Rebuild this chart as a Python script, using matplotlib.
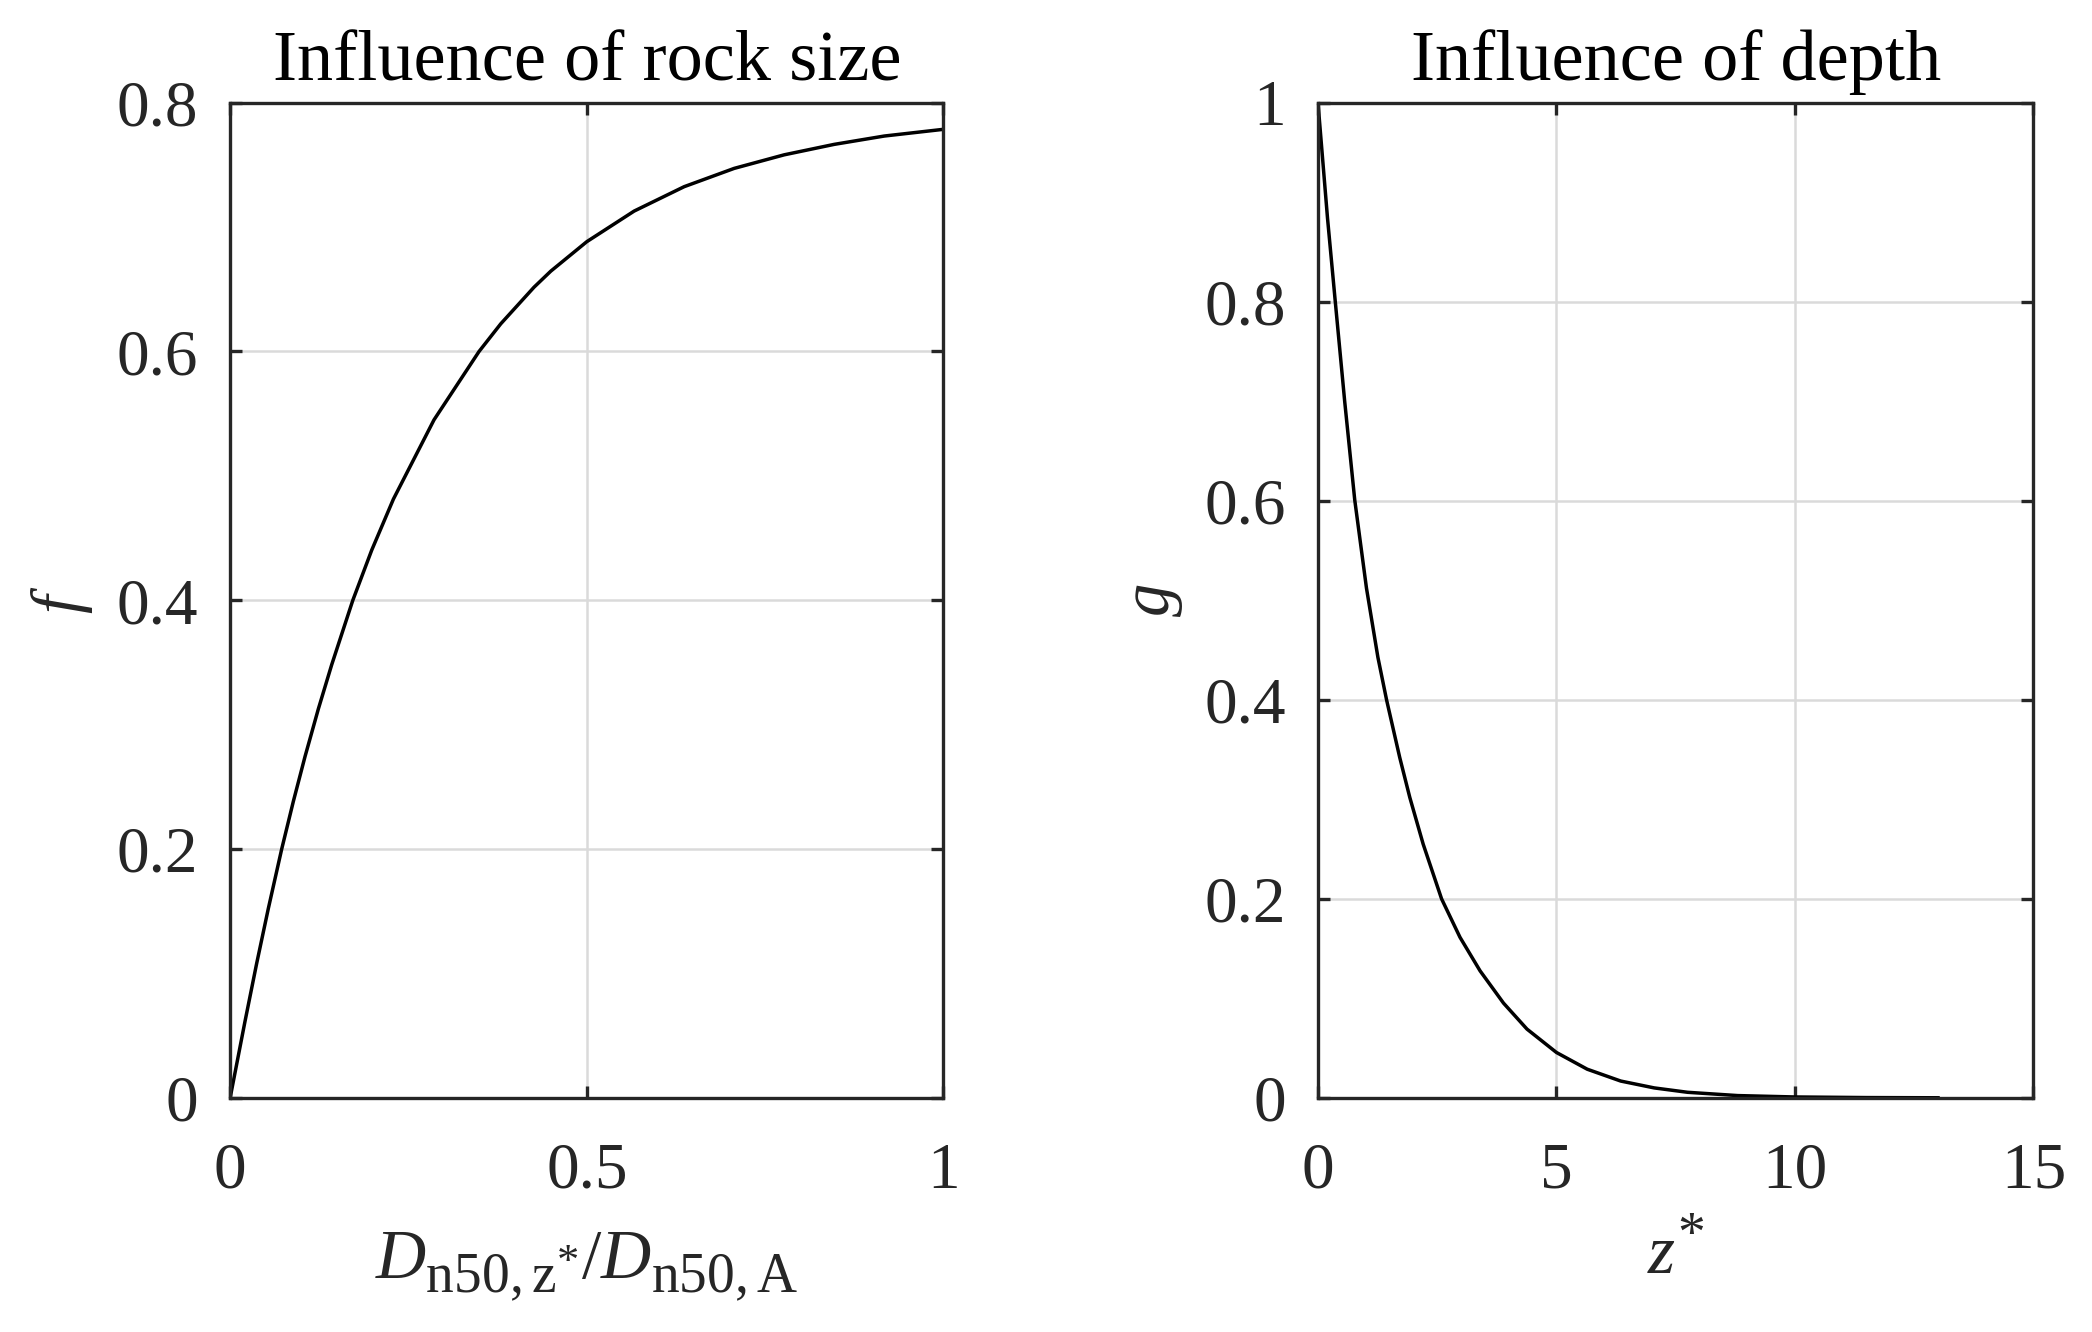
import matplotlib
matplotlib.use("Agg")
import matplotlib.pyplot as plt
try:
    import matplotlib._mathtext as _mt
    _mt.SHRINK_FACTOR = 0.8
    _mt.FontConstantsBase.sub1 = 0.45
    _mt.FontConstantsBase.sub2 = 0.6
except Exception:
    pass

# ---- data ----
rock_ratio = [0.0, 0.0207, 0.0372, 0.0535, 0.0722, 0.0886, 0.105, 0.1237, 0.1424, 0.172,
              0.1985, 0.2289, 0.2858, 0.349, 0.3794, 0.426, 0.4495, 0.5, 0.5664, 0.6365,
              0.7066, 0.7767, 0.8468, 0.917, 1.0]
f_values = [0.0, 0.0611, 0.1081, 0.1521, 0.1998, 0.2383, 0.2744, 0.3127, 0.3482, 0.400,
            0.4403, 0.4813, 0.545, 0.600, 0.6222, 0.6516, 0.6645, 0.6882, 0.7128, 0.7324,
            0.7471, 0.758, 0.7664, 0.7731, 0.7785]

z_star = [0.0, 0.2, 0.364, 0.56, 0.771, 1.017, 1.257, 1.44, 1.714, 1.925, 2.206, 2.592,
          2.978, 3.399, 3.89, 4.382, 5.0, 5.645, 6.347, 7.05, 7.75, 8.8, 10.0, 11.5, 13.0]
g_values = [1.0, 0.884, 0.7995, 0.70, 0.6008, 0.5122, 0.4426, 0.3996, 0.3421, 0.302, 0.255,
            0.200, 0.1614, 0.1277, 0.0953, 0.0692, 0.0457, 0.0289, 0.0170, 0.0101, 0.0057,
            0.0024, 0.001, 0.0004, 0.0002]

left_xticks = [0, 0.5, 1]
left_xticklabels = ["0", "0.5", "1"]
left_yticks = [0, 0.2, 0.4, 0.6, 0.8]
left_yticklabels = ["0", "0.2", "0.4", "0.6", "0.8"]
right_xticks = [0, 5, 10, 15]
right_xticklabels = ["0", "5", "10", "15"]
right_yticks = [0, 0.2, 0.4, 0.6, 0.8, 1]
right_yticklabels = ["0", "0.2", "0.4", "0.6", "0.8", "1"]

titles = ["Influence of rock size", "Influence of depth"]
xlabels = [r"$D_{\mathrm{n50,z}^{*}}/D_{\mathrm{n50,A}}$", r"$z^{*}$"]
ylabels = [r"$f$", r"$g$"]

# ---- style ----
plt.rcParams["font.family"] = ["Liberation Serif", "DejaVu Serif"]
plt.rcParams["mathtext.fontset"] = "custom"
plt.rcParams["mathtext.rm"] = "Liberation Serif"
plt.rcParams["mathtext.it"] = "Liberation Serif:italic"
plt.rcParams["mathtext.bf"] = "Liberation Serif:bold"

dark = "#262626"
fig = plt.figure(figsize=(20.92, 13.32), dpi=100)
ax1 = fig.add_axes([0.1100, 0.1757, 0.4510 - 0.1100, 0.923 - 0.1757])
ax2 = fig.add_axes([0.630, 0.1757, 0.972 - 0.630, 0.923 - 0.1757])

ax1.plot(rock_ratio, f_values, color="black", lw=2.5, zorder=3,
         solid_joinstyle="round")
ax2.plot(z_star, g_values, color="black", lw=2.5, zorder=3,
         solid_joinstyle="round")

setups = [
    (ax1, (0, 1), (0, 0.8), left_xticks, left_xticklabels, left_yticks, left_yticklabels,
     -0.235, -0.170),
    (ax2, (0, 15), (0, 1), right_xticks, right_xticklabels, right_yticks, right_yticklabels,
     -0.228, -0.159),
]
for i, (ax, xl, yl, xt, xtl, yt, ytl, ylx, xly) in enumerate(setups):
    ax.set_xlim(*xl)
    ax.set_ylim(*yl)
    ax.set_xticks(xt)
    ax.set_xticklabels(xtl)
    ax.set_yticks(yt)
    ax.set_yticklabels(ytl)
    ax.grid(True, color="#dadada", lw=1.8, zorder=0)
    ax.set_axisbelow(True)
    for s in ax.spines.values():
        s.set_color(dark)
        s.set_linewidth(2.4)
        s.set_zorder(4)
    ax.tick_params(axis="both", which="both", direction="in", length=8.5, width=2.4,
                   color=dark, labelcolor=dark, labelsize=47, top=True, right=True)
    ax.tick_params(axis="y", pad=23)
    ax.tick_params(axis="x", pad=32)
    ax.set_title(titles[i], fontsize=52, pad=16, color="black")
    ax.set_xlabel(xlabels[i], fontsize=50, color=dark, va="center")
    ax.xaxis.set_label_coords(0.5, xly)
    ax.set_ylabel(ylabels[i], fontsize=48, color=dark, va="center")
    ax.yaxis.set_label_coords(ylx, 0.5)

fig.savefig("out.png", dpi=100, facecolor="white")
